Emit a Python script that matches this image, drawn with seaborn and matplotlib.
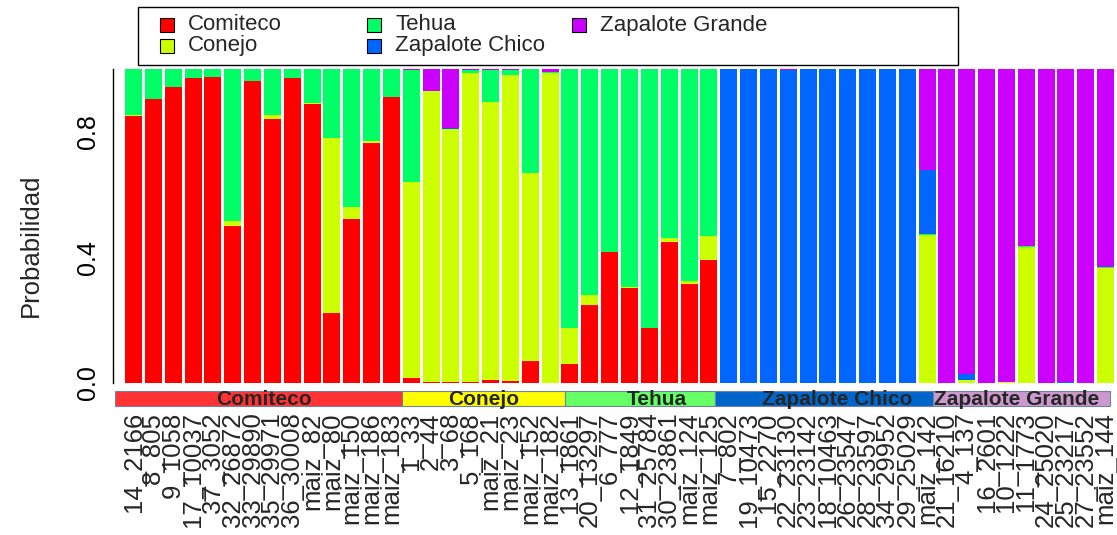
import numpy as np
import pandas as pd
import matplotlib
matplotlib.use("Agg")
import matplotlib.pyplot as plt
from matplotlib.patches import Rectangle
import seaborn as sns

# ---------------- data ----------------
samples = [
    "14_2166", "8_805", "9_1058", "17_10037", "37_3052", "32_26872", "33_29890",
    "35_29971", "36_30008", "maiz_82", "maiz_80", "maiz_150", "maiz_186", "maiz_183",
    "1_33", "2_44", "3_68", "5_168", "maiz_21", "maiz_23", "maiz_152", "maiz_182",
    "13_1861", "20_13297", "6_777", "12_1849", "31_25784", "30_23861", "maiz_124", "maiz_125",
    "7_802", "19_10473", "15_2270", "22_23130", "23_23142", "18_10463", "26_23547",
    "28_23597", "34_29952", "29_25029",
    "maiz_142", "21_16210", "4_137", "16_2601", "10_1222", "11_1773", "24_25020",
    "25_23217", "27_23552", "maiz_144",
]
group_names = ["Comiteco", "Conejo", "Tehua", "Zapalote Chico", "Zapalote Grande"]
group_sizes = [14, 8, 8, 10, 10]

comiteco = [0.851, 0.904, 0.943, 0.971, 0.975, 0.500, 0.962, 0.841, 0.971, 0.889, 0.223, 0.522, 0.764, 0.911,
            0.016, 0.003, 0.003, 0.003, 0.010, 0.005, 0.070, 0.000,
            0.060, 0.248, 0.417, 0.303, 0.175, 0.449, 0.315, 0.392,
            0, 0, 0, 0, 0, 0, 0, 0, 0, 0,
            0, 0, 0, 0, 0, 0, 0, 0, 0, 0]
conejo = [0.003, 0, 0, 0, 0, 0.016, 0, 0.013, 0, 0.003, 0.557, 0.038, 0.006, 0,
          0.624, 0.927, 0.806, 0.984, 0.885, 0.976, 0.599, 0.987,
          0.115, 0.032, 0, 0.003, 0, 0.013, 0.010, 0.076,
          0, 0, 0, 0, 0, 0, 0, 0, 0, 0,
          0.471, 0, 0.010, 0, 0.003, 0.433, 0, 0, 0, 0.366]
tehua = [0.146, 0.096, 0.057, 0.029, 0.025, 0.484, 0.038, 0.146, 0.029, 0.108, 0.220, 0.440, 0.230, 0.089,
         0.357, 0, 0, 0.010, 0.102, 0.016, 0.331, 0.003,
         0.825, 0.720, 0.583, 0.694, 0.825, 0.538, 0.675, 0.532,
         0, 0, 0, 0, 0, 0, 0, 0, 0, 0,
         0.003, 0, 0, 0, 0, 0.003, 0, 0, 0, 0.003]
zap_chico = [0, 0, 0, 0, 0, 0, 0, 0, 0, 0, 0, 0, 0, 0,
             0, 0, 0.003, 0, 0, 0, 0, 0,
             0, 0, 0, 0, 0, 0, 0, 0,
             1, 1, 1, 0.997, 1, 1, 1, 1, 1, 1,
             0.204, 0, 0.019, 0, 0, 0, 0, 0.003, 0, 0]
zap_grande = [0, 0, 0, 0, 0, 0, 0, 0, 0, 0, 0, 0, 0, 0,
              0.003, 0.070, 0.188, 0.003, 0.003, 0.003, 0, 0.010,
              0, 0, 0, 0, 0, 0, 0, 0,
              0, 0, 0, 0.003, 0, 0, 0, 0, 0, 0,
              0.322, 1, 0.971, 1, 0.997, 0.564, 1, 0.997, 1, 0.631]

y_ticks = [0.0, 0.2, 0.4, 0.6, 0.8, 1.0]
y_ticklabels = ["0.0", "", "0.4", "", "0.8", ""]

cluster_colors = ["#FF0000", "#CCFF00", "#00FF66", "#0066FF", "#CC00FF"]
band_colors = ["#FF3333", "#FFFF00", "#66FF66", "#0066CC", "#CC99CC"]

# ---------------- figure ----------------
sns.set_style("white")
plt.rcParams["font.family"] = ["Liberation Sans", "DejaVu Sans"]

W, H = 1117, 535
fig = plt.figure(figsize=(W / 100, H / 100), dpi=100)
ax_left, ax_right, ax_top, ax_bottom = 113, 1117, 69, 383
ax = fig.add_axes([ax_left / W, 1 - ax_bottom / H, (ax_right - ax_left) / W, (ax_bottom - ax_top) / H])

comps = np.array([comiteco, conejo, tehua, zap_chico, zap_grande])
cum = np.cumsum(comps, axis=0)
df = pd.DataFrame({"muestra": samples})
for k in range(len(group_names) - 1, -1, -1):
    df["val"] = cum[k]
    sns.barplot(data=df, x="muestra", y="val", order=samples, color=cluster_colors[k],
                saturation=1, width=0.857, linewidth=0, errorbar=None, ax=ax)

# x mapping: bar centre i at pixel 133.5 + 19.84 * i
def px2x(px):
    return (px - 133.5) / 19.84

ax.set_xlim(px2x(ax_left), px2x(ax_right))
ax.set_ylim(0, 1)
for s in ["top", "right", "bottom"]:
    ax.spines[s].set_visible(False)
ax.spines["left"].set_bounds(0, 1)
ax.spines["left"].set_linewidth(1)
ax.spines["left"].set_color("black")

ax.set_yticks(y_ticks)
ax.set_yticklabels(y_ticklabels)
ax.tick_params(axis="y", length=9.4, width=1, direction="out", labelsize=18,
               labelrotation=90, pad=0, colors="black")
for t in ax.get_yticklabels():
    t.set_va("center")
ax.tick_params(axis="x", length=0, labelsize=18.5, labelrotation=90, pad=21)
ax.set_xlabel("")
ax.set_ylabel("Probabilidad", fontsize=18.5)
ax.yaxis.set_label_coords(-0.07, 0.44)

# group bands under the bars
band_edges_px = [115, 402, 565, 715, 933, 1110]
band_text_px = [264, 484, 657, 837, 1017]
y_b0 = (ax_bottom - 406) / (ax_bottom - ax_top)
y_b1 = (ax_bottom - 391) / (ax_bottom - ax_top)
for i, name in enumerate(group_names):
    x0, x1 = px2x(band_edges_px[i]), px2x(band_edges_px[i + 1])
    ax.add_patch(Rectangle((x0, y_b0), x1 - x0, y_b1 - y_b0, facecolor=band_colors[i],
                           edgecolor="#7080A8", linewidth=0.8, clip_on=False, zorder=5))
    ax.text(px2x(band_text_px[i]), (y_b0 + y_b1) / 2 - 0.004, name, ha="center", va="center",
            fontsize=15, fontweight="bold", clip_on=False, zorder=6)

# legend box (R style: equal column widths)
def fx(px):
    return px / W

def fy(py):
    return 1 - py / H

fig.add_artist(Rectangle((fx(138), fy(65)), fx(958) - fx(138), fy(7) - fy(65),
                         transform=fig.transFigure, facecolor="white", edgecolor="black", linewidth=1))
leg_cols_px = [160, 367, 572]
leg_rows_px = [25, 46]
for i, name in enumerate(group_names):
    c, r = divmod(i, 2)
    xs, yc = leg_cols_px[c], leg_rows_px[r]
    fig.add_artist(Rectangle((fx(xs), fy(yc + 7)), fx(14), 14 / H, transform=fig.transFigure,
                             facecolor=cluster_colors[i], edgecolor="black", linewidth=0.8))
    fig.text(fx(xs + 28), fy(yc), name, ha="left", va="center", fontsize=16)

fig.savefig("out.png", dpi=100)
